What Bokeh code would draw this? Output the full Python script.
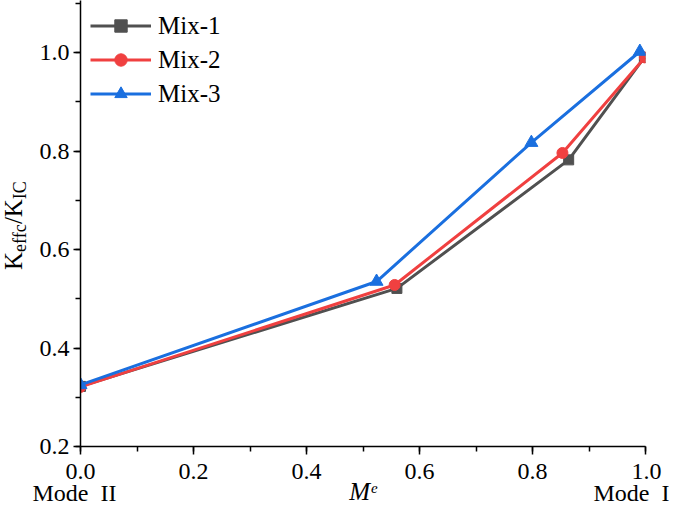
from bokeh.plotting import figure
from bokeh.layouts import row
from bokeh.models import (Range1d, SingleIntervalTicker, NumeralTickFormatter,
                          Legend, LegendItem, Div)
from bokeh.embed import file_html
from bokeh.resources import INLINE

# ---- data ----
mix1_x = [0.0, 0.560, 0.864, 0.998]
mix1_y = [0.322, 0.521, 0.782, 0.990]
mix2_x = [0.0, 0.556, 0.853, 0.999]
mix2_y = [0.321, 0.528, 0.796, 0.990]
mix3_x = [0.0, 0.524, 0.798, 0.990]
mix3_y = [0.325, 0.535, 0.817, 1.002]
series_names = ["Mix-1", "Mix-2", "Mix-3"]
colors = ["#505050", "#F04040", "#1A6FDF"]
markers = ["square", "circle", "triangle"]
marker_sizes = [10, 11, 13]
NB = "\u00a0"
x_tick_labels = {0: "0.0\nMode" + NB + " II" + NB * 2,
                 1: NB * 5 + "1.0\nMode" + NB + " I"}
x_title = "M\u1d49"

FONT = "Liberation Serif"
DIV_W = 32
FIG_W = 669 - DIV_W

p = figure(width=FIG_W, height=508, output_backend="svg", toolbar_location=None,
           x_range=Range1d(0, 1.0), y_range=Range1d(0.2, 1.1056),
           min_border_left=80 - DIV_W, min_border_right=24, min_border_top=0,
           min_border_bottom=62)
p.outline_line_color = None
p.xgrid.visible = False
p.ygrid.visible = False

for ax in (p.xaxis, p.yaxis):
    ax.ticker = SingleIntervalTicker(interval=0.2, num_minor_ticks=2)
    ax.formatter = NumeralTickFormatter(format="0.0")
    ax.axis_line_color = "black"
    ax.axis_line_width = 1.5
    ax.major_tick_line_color = "black"
    ax.major_tick_line_width = 1.5
    ax.minor_tick_line_color = "black"
    ax.minor_tick_line_width = 1.5
    ax.major_tick_in = 0
    ax.minor_tick_in = 0
    ax.major_label_text_font = FONT
    ax.major_label_text_font_size = "24px"
    ax.major_label_text_color = "black"

p.xaxis.major_tick_out = 8
p.xaxis.minor_tick_out = 5
p.yaxis.major_tick_out = 7
p.yaxis.minor_tick_out = 5
p.xaxis.major_label_standoff = 3
p.yaxis.major_label_standoff = 4
p.xaxis.major_label_overrides = x_tick_labels
p.xaxis.major_label_text_line_height = 0.88
p.xaxis.axis_label = x_title
p.xaxis.axis_label_text_font = FONT
p.xaxis.axis_label_text_font_style = "italic"
p.xaxis.axis_label_text_font_size = "25px"
p.xaxis.axis_label_text_color = "black"
p.xaxis.axis_label_standoff = -31

data = [(mix1_x, mix1_y), (mix2_x, mix2_y), (mix3_x, mix3_y)]
items = []
for (xs, ys), name, c, m, ms in zip(data, series_names, colors, markers, marker_sizes):
    r1 = p.line(xs, ys, line_color=c, line_width=3)
    r2 = p.scatter(xs, ys, marker=m, size=ms, fill_color=c, line_color=c)
    items.append(LegendItem(label=name, renderers=[r1, r2]))

legend = Legend(items=items, location="top_left")
legend.background_fill_alpha = 0
legend.border_line_color = None
legend.label_text_font = FONT
legend.label_text_font_size = "25px"
legend.label_text_color = "black"
legend.glyph_width = 61
legend.glyph_height = 31
legend.label_height = 31
legend.spacing = 3
legend.padding = 12
legend.margin = 10
legend.label_standoff = 7
p.add_layout(legend, "center")

# y title with subscripts, rotated (HTML text beside the figure)
sub = "font-size:18px; line-height:0;"
ytitle_html = (
    "<div style=\"writing-mode: vertical-rl; transform: rotate(180deg); "
    "font-family: 'Liberation Serif', serif; font-size: 25px; line-height: 25px; "
    "white-space: nowrap; color: black; text-align: start; height: 100px; "
    "margin-top: 170px; margin-left: 1px;\">"
    f"K<sub style=\"{sub}\">effc</sub><span style=\"margin: 0 2px;\">/</span>"
    f"K<sub style=\"{sub}\">IC</sub></div>"
)
ydiv = Div(text=ytitle_html, width=DIV_W, height=508, margin=(0, 0, 0, 0))

layout = row(ydiv, p, spacing=0)
open("out.html", "w").write(file_html(layout, INLINE))
